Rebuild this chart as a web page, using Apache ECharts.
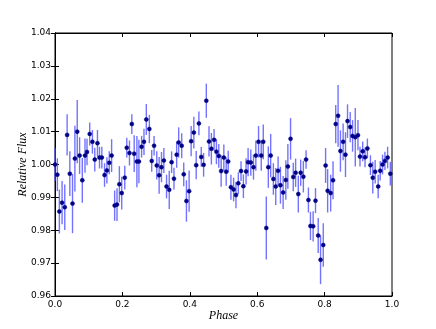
<!DOCTYPE html>
<html>
<head>
<meta charset="utf-8">
<script src="https://cdn.jsdelivr.net/npm/echarts@6/dist/echarts.min.js"></script>
<style>html,body{margin:0;padding:0;background:#fff}#c{width:436px;height:329px}</style>
</head>
<body>
<div id="c"></div>
<script>
const phase = [0.000,0.007,0.013,0.021,0.029,0.036,0.044,0.052,0.059,0.066,0.073,0.081,0.089,0.095,0.103,0.111,0.118,0.126,0.132,0.139,0.147,0.154,0.161,0.168,0.177,0.184,0.191,0.198,0.207,0.213,0.221,0.228,0.235,0.243,0.249,0.257,0.264,0.271,0.280,0.287,0.294,0.302,0.309,0.316,0.323,0.331,0.339,0.346,0.353,0.361,0.367,0.376,0.382,0.390,0.398,0.404,0.412,0.419,0.427,0.434,0.441,0.449,0.457,0.464,0.472,0.479,0.486,0.493,0.501,0.508,0.514,0.522,0.530,0.537,0.544,0.552,0.559,0.567,0.573,0.581,0.589,0.596,0.604,0.612,0.618,0.627,0.633,0.640,0.648,0.655,0.662,0.669,0.677,0.685,0.691,0.699,0.707,0.714,0.722,0.729,0.737,0.745,0.752,0.758,0.766,0.773,0.781,0.788,0.796,0.803,0.809,0.818,0.825,0.833,0.840,0.847,0.855,0.862,0.868,0.876,0.883,0.891,0.899,0.905,0.913,0.920,0.927,0.936,0.943,0.950,0.959,0.965,0.972,0.979,0.987,0.995];
const flux = [1.0000,0.9969,0.9857,0.9884,0.9870,1.0090,0.9972,0.9881,1.0018,1.0100,1.0027,0.9952,1.0027,1.0038,1.0093,1.0069,1.0015,1.0065,1.0021,1.0021,0.9968,0.9982,1.0005,1.0027,0.9875,0.9878,0.9940,0.9913,0.9960,1.0051,1.0035,1.0123,1.0033,1.0009,1.0009,1.0054,1.0069,1.0137,1.0108,1.0011,1.0057,0.9997,0.9967,0.9992,1.0012,0.9933,0.9923,1.0007,0.9957,1.0030,1.0067,1.0057,0.9970,0.9889,0.9919,1.0071,1.0097,0.9998,1.0125,1.0023,0.9999,1.0194,1.0070,1.0048,1.0075,1.0039,1.0026,0.9980,1.0021,0.9978,1.0009,0.9931,0.9924,0.9907,0.9943,0.9980,0.9934,0.9979,1.0007,1.0006,0.9992,1.0027,1.0069,1.0027,1.0069,0.9807,0.9992,1.0027,0.9956,0.9933,0.9981,0.9937,0.9915,0.9953,0.9994,1.0078,0.9962,0.9975,0.9910,0.9975,0.9963,1.0015,0.9892,0.9813,0.9812,0.9890,0.9784,0.9710,0.9755,0.9997,0.9920,0.9913,0.9952,1.0123,1.0148,1.0041,1.0069,1.0030,1.0132,1.0114,1.0087,1.0083,1.0089,1.0024,1.0040,1.0022,1.0049,0.9998,0.9960,0.9978,0.9933,0.9981,1.0000,1.0011,1.0021,0.9972];
const fluxErr = [0.0050,0.0050,0.0067,0.0066,0.0069,0.0063,0.0068,0.0090,0.0100,0.0096,0.0056,0.0068,0.0052,0.0040,0.0035,0.0036,0.0036,0.0040,0.0033,0.0033,0.0036,0.0040,0.0035,0.0050,0.0046,0.0050,0.0055,0.0050,0.0036,0.0030,0.0038,0.0030,0.0056,0.0078,0.0066,0.0033,0.0040,0.0047,0.0043,0.0033,0.0030,0.0043,0.0056,0.0046,0.0038,0.0036,0.0058,0.0033,0.0033,0.0040,0.0046,0.0038,0.0036,0.0063,0.0063,0.0046,0.0048,0.0043,0.0036,0.0030,0.0036,0.0052,0.0046,0.0048,0.0033,0.0038,0.0036,0.0048,0.0040,0.0043,0.0033,0.0038,0.0036,0.0040,0.0033,0.0030,0.0036,0.0040,0.0043,0.0040,0.0038,0.0046,0.0048,0.0046,0.0053,0.0096,0.0063,0.0066,0.0048,0.0056,0.0043,0.0056,0.0050,0.0060,0.0068,0.0063,0.0043,0.0043,0.0056,0.0040,0.0048,0.0028,0.0038,0.0043,0.0046,0.0038,0.0053,0.0074,0.0066,0.0053,0.0066,0.0056,0.0058,0.0058,0.0094,0.0063,0.0056,0.0068,0.0051,0.0046,0.0048,0.0089,0.0046,0.0030,0.0030,0.0030,0.0030,0.0030,0.0048,0.0036,0.0036,0.0030,0.0030,0.0028,0.0033,0.0036];
const xTicks = [0.0, 0.2, 0.4, 0.6, 0.8, 1.0];
const yTicks = [0.96, 0.97, 0.98, 0.99, 1.00, 1.01, 1.02, 1.03, 1.04];

const chart = echarts.init(document.getElementById('c'), null, {renderer: 'canvas'});
const errData = phase.map((p, i) => [p, flux[i] - fluxErr[i], flux[i] + fluxErr[i]]);
const ptData = phase.map((p, i) => [p, flux[i]]);
const tickFont = {fontFamily: 'DejaVu Sans', fontSize: 9, color: '#000'};
const nameFont = {fontFamily: 'Liberation Serif', fontStyle: 'italic', fontSize: 12, color: '#000'};

const baseX = {
  type: 'value', min: xTicks[0], max: xTicks[xTicks.length - 1], interval: 0.2,
  splitLine: {show: false},
  axisLine: {show: true, lineStyle: {color: '#000', width: 1}},
  axisTick: {show: true, inside: true, length: 4, lineStyle: {color: '#000'}}
};
const baseY = {
  type: 'value', min: yTicks[0], max: yTicks[yTicks.length - 1], interval: 0.01,
  splitLine: {show: false},
  axisLine: {show: true, lineStyle: {color: '#000', width: 1}},
  axisTick: {show: true, inside: true, length: 4, lineStyle: {color: '#000'}}
};

chart.setOption({
  animation: false,
  backgroundColor: '#fff',
  grid: {left: 55, right: 44, top: 33, bottom: 33, show: true, borderColor: '#000', borderWidth: 1, backgroundColor: 'transparent'},
  xAxis: [
    Object.assign({}, baseX, {
      position: 'bottom', name: 'Phase', nameLocation: 'middle', nameGap: 14, nameMoveOverlap: false, nameTextStyle: nameFont,
      axisLabel: Object.assign({}, tickFont, {margin: 4, formatter: v => v.toFixed(1)})
    }),
    Object.assign({}, baseX, {position: 'top', axisLabel: {show: false}})
  ],
  yAxis: [
    Object.assign({}, baseY, {
      position: 'left', name: 'Relative Flux', nameLocation: 'middle', nameGap: 26, nameMoveOverlap: false, nameRotate: 90, nameTextStyle: nameFont,
      axisLabel: Object.assign({}, tickFont, {margin: 4, formatter: v => v.toFixed(2)})
    }),
    Object.assign({}, baseY, {position: 'right', axisLabel: {show: false}})
  ],
  series: [
    {
      type: 'custom',
      xAxisIndex: 0, yAxisIndex: 0,
      data: errData,
      renderItem: function (params, api) {
        const x = api.value(0);
        const a = api.coord([x, api.value(2)]);
        const b = api.coord([x, api.value(1)]);
        return {type: 'line', shape: {x1: a[0], y1: a[1], x2: b[0], y2: b[1]},
          style: {stroke: 'rgba(80,80,255,0.8)', lineWidth: 1.4}};
      },
      z: 2
    },
    {
      type: 'scatter',
      xAxisIndex: 0, yAxisIndex: 0,
      data: ptData,
      symbol: 'circle', symbolSize: 4,
      itemStyle: {color: '#00008f', borderColor: '#000070', borderWidth: 0.5, opacity: 1},
      z: 3
    }
  ]
});
</script>
</body>
</html>
